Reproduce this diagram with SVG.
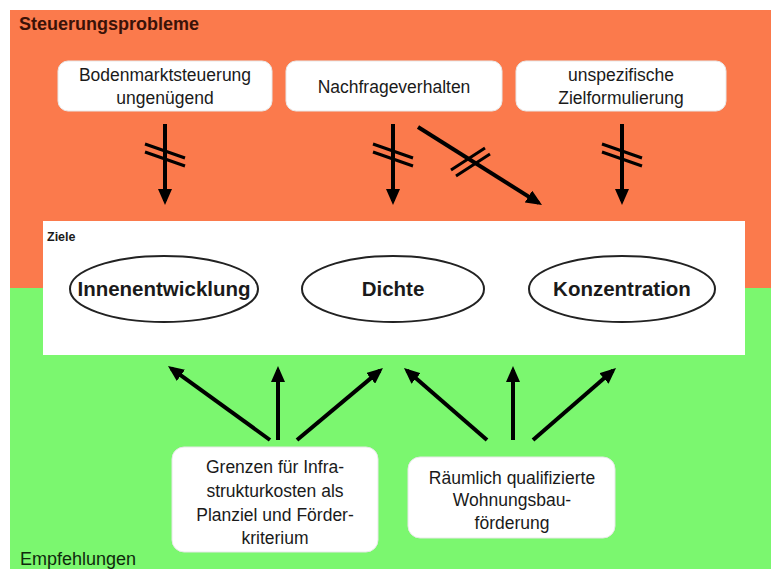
<svg xmlns="http://www.w3.org/2000/svg" width="771" height="569" viewBox="0 0 771 569">
<style>
text{font-family:"Liberation Sans",Arial,sans-serif;fill:#1a1a1a}
.box{fill:#fff;stroke:#e8e8e8;stroke-width:1}
.bt{font-size:17.5px;text-anchor:middle}
.el{fill:#fff;stroke:#222;stroke-width:2}
.et{font-size:20.5px;font-weight:bold;text-anchor:middle}
.sh{stroke:#000;stroke-width:4;fill:none}
.hs{stroke:#000;stroke-width:3;fill:none}
</style>
<defs>
<marker id="ah" markerUnits="userSpaceOnUse" markerWidth="16" markerHeight="14" refX="12" refY="7" orient="auto">
<path d="M0,0 L16,7 L0,14 z" fill="#000"/>
</marker>
</defs>
<rect width="771" height="569" fill="#fff"/>
<rect x="10" y="10" width="761" height="278" fill="#fb7a4c"/>
<rect x="10" y="288" width="761" height="281" fill="#7bf76f"/>
<text x="19" y="30" style="font-size:18px;font-weight:bold;fill:#3a1208">Steuerungsprobleme</text>
<text x="20" y="565" style="font-size:18px;fill:#0f2a0c">Empfehlungen</text>

<g id="ziele">
<rect x="43" y="221" width="702" height="134" fill="#fff"/>
<text x="47" y="241" style="font-size:12.5px;font-weight:bold">Ziele</text>
</g>

<g id="n-boden">
<rect class="box" x="58" y="61" width="214" height="50" rx="10"/>
<text class="bt" x="165" y="81">Bodenmarktsteuerung</text>
<text class="bt" x="165" y="104">ungenügend</text>
</g>
<g id="n-nachfrage">
<rect class="box" x="286" y="61" width="216" height="50" rx="10"/>
<text class="bt" x="394" y="93">Nachfrageverhalten</text>
</g>
<g id="n-ziel">
<rect class="box" x="516" y="61" width="210" height="50" rx="10"/>
<text class="bt" x="621" y="81">unspezifische</text>
<text class="bt" x="621" y="104">Zielformulierung</text>
</g>

<g id="e-innen">
<ellipse class="el" cx="164" cy="289" rx="94" ry="33"/>
<text class="et" x="164" y="296">Innenentwicklung</text>
</g>
<g id="e-dichte">
<ellipse class="el" cx="393" cy="289" rx="91" ry="33"/>
<text class="et" x="393" y="296">Dichte</text>
</g>
<g id="e-konz">
<ellipse class="el" cx="622" cy="289" rx="93" ry="33"/>
<text class="et" x="622" y="296">Konzentration</text>
</g>

<g id="n-grenzen">
<rect class="box" x="172" y="447" width="206" height="105" rx="12"/>
<text class="bt" x="275" y="473">Grenzen für Infra-</text>
<text class="bt" x="275" y="497">strukturkosten als</text>
<text class="bt" x="275" y="521">Planziel und Förder-</text>
<text class="bt" x="275" y="544">kriterium</text>
</g>
<g id="n-wohnung">
<rect class="box" x="408" y="457" width="207" height="81" rx="12"/>
<text class="bt" x="512" y="484">Räumlich qualifizierte</text>
<text class="bt" x="512" y="506">Wohnungsbau-</text>
<text class="bt" x="512" y="529">förderung</text>
</g>

<g id="connectors">
<line class="sh" x1="165" y1="124" x2="165" y2="201" marker-end="url(#ah)"/>
<line class="sh" x1="393" y1="124" x2="393" y2="201" marker-end="url(#ah)"/>
<line class="sh" x1="418" y1="127" x2="538.6" y2="202.9" marker-end="url(#ah)"/>
<line class="sh" x1="622" y1="124" x2="622" y2="201" marker-end="url(#ah)"/>
<path class="hs" d="M145,144 L185,158 M145,152 L185,166"/>
<path class="hs" d="M373,144 L413,158 M373,152 L413,166"/>
<path class="hs" d="M602,144 L642,158 M602,152 L642,166"/>
<path class="hs" d="M451,170 L485,148 M456,176 L490,154"/>

<line class="sh" x1="270" y1="440" x2="171.2" y2="368.3" marker-end="url(#ah)"/>
<line class="sh" x1="278" y1="440" x2="278" y2="370" marker-end="url(#ah)"/>
<line class="sh" x1="297" y1="440" x2="379.9" y2="370.6" marker-end="url(#ah)"/>
<line class="sh" x1="487" y1="440" x2="407" y2="370.6" marker-end="url(#ah)"/>
<line class="sh" x1="513" y1="440" x2="513" y2="370" marker-end="url(#ah)"/>
<line class="sh" x1="533" y1="440" x2="613" y2="370.6" marker-end="url(#ah)"/>
</g>
</svg>
